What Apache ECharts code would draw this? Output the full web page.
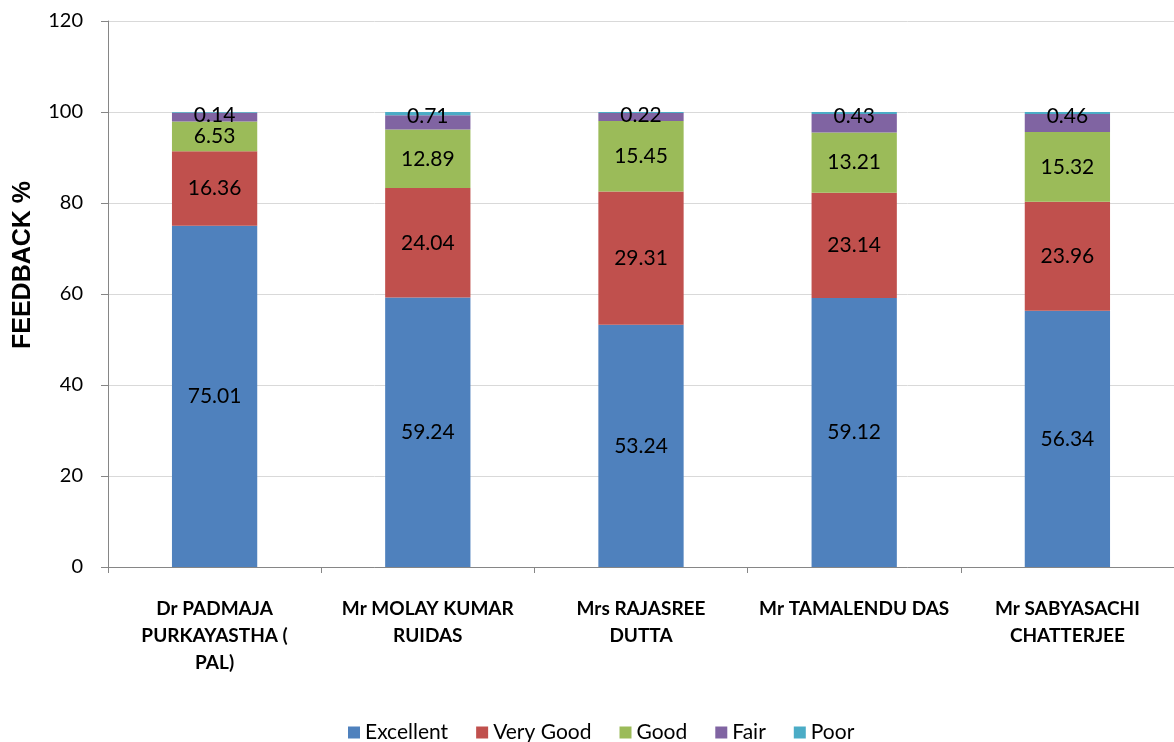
<!DOCTYPE html>
<html>
<head>
<meta charset="utf-8">
<script src="https://cdn.jsdelivr.net/npm/echarts@6/dist/echarts.min.js"></script>
<style>
  html, body { margin: 0; padding: 0; background: #fff; }
  #chart { width: 1174px; height: 742px; }
</style>
</head>
<body>
<div id="chart"></div>
<script>
  var teachers = [
    'Dr PADMAJA\nPURKAYASTHA (\nPAL)',
    'Mr MOLAY KUMAR\nRUIDAS',
    'Mrs RAJASREE\nDUTTA',
    'Mr TAMALENDU DAS',
    'Mr SABYASACHI\nCHATTERJEE'
  ];
  var excellent = [75.01, 59.24, 53.24, 59.12, 56.34];
  var veryGood = [16.36, 24.04, 29.31, 23.14, 23.96];
  var good = [6.53, 12.89, 15.45, 13.21, 15.32];
  var fair = [1.96, 3.12, 1.78, 4.10, 3.92];
  var poor = [0.14, 0.71, 0.22, 0.43, 0.46];

  var fontFam = 'Lato, "Open Sans", sans-serif';

  function seg(name, data, color, showLabel, offset) {
    return {
      name: name,
      type: 'bar',
      stack: 'fb',
      barWidth: '40%',
      data: data,
      itemStyle: { color: color },
      label: {
        show: showLabel,
        position: 'inside',
        offset: offset || [0, 0],
        color: '#000',
        fontSize: 21,
        fontFamily: fontFam
      }
    };
  }

  var chart = echarts.init(document.getElementById('chart'));
  chart.setOption({
    animation: false,
    grid: { left: 108, right: 0, top: 21, bottom: 175 },
    legend: {
      left: 343,
      top: 717,
      itemWidth: 12,
      itemHeight: 12,
      itemGap: 28,
      icon: 'rect',
      textStyle: { fontSize: 21, color: '#000', fontFamily: fontFam }
    },
    xAxis: {
      type: 'category',
      data: teachers,
      axisLine: { lineStyle: { color: '#868686' } },
      axisTick: { show: true, length: 6, lineStyle: { color: '#868686' } },
      axisLabel: {
        margin: 28,
        interval: 0,
        fontSize: 19,
        fontWeight: 'bold',
        lineHeight: 27,
        color: '#000',
        fontFamily: fontFam
      }
    },
    yAxis: {
      type: 'value',
      min: 0,
      max: 120,
      interval: 20,
      name: 'FEEDBACK %',
      nameLocation: 'middle',
      nameGap: 72,
      nameTextStyle: {
        fontSize: 25,
        fontWeight: 'bold',
        color: '#000',
        fontFamily: '"Liberation Sans", Arial, sans-serif',
        padding: [0, 0, 0, 58]
      },
      axisLine: { show: true, lineStyle: { color: '#868686' } },
      axisTick: { show: true, length: 7, lineStyle: { color: '#868686' } },
      axisLabel: { fontSize: 20, color: '#000', margin: 25, fontFamily: fontFam },
      splitLine: { lineStyle: { color: '#d9d9d9' } }
    },
    series: [
      seg('Excellent', excellent, '#4F81BD', true),
      seg('Very Good', veryGood, '#C0504D', true),
      seg('Good', good, '#9BBB59', true),
      seg('Fair', fair, '#8064A2', false),
      seg('Poor', poor, '#4BACC6', true, [0, 3])
    ]
  });

  window.addEventListener('resize', function () {
    chart.resize();
  });
</script>
</body>
</html>
